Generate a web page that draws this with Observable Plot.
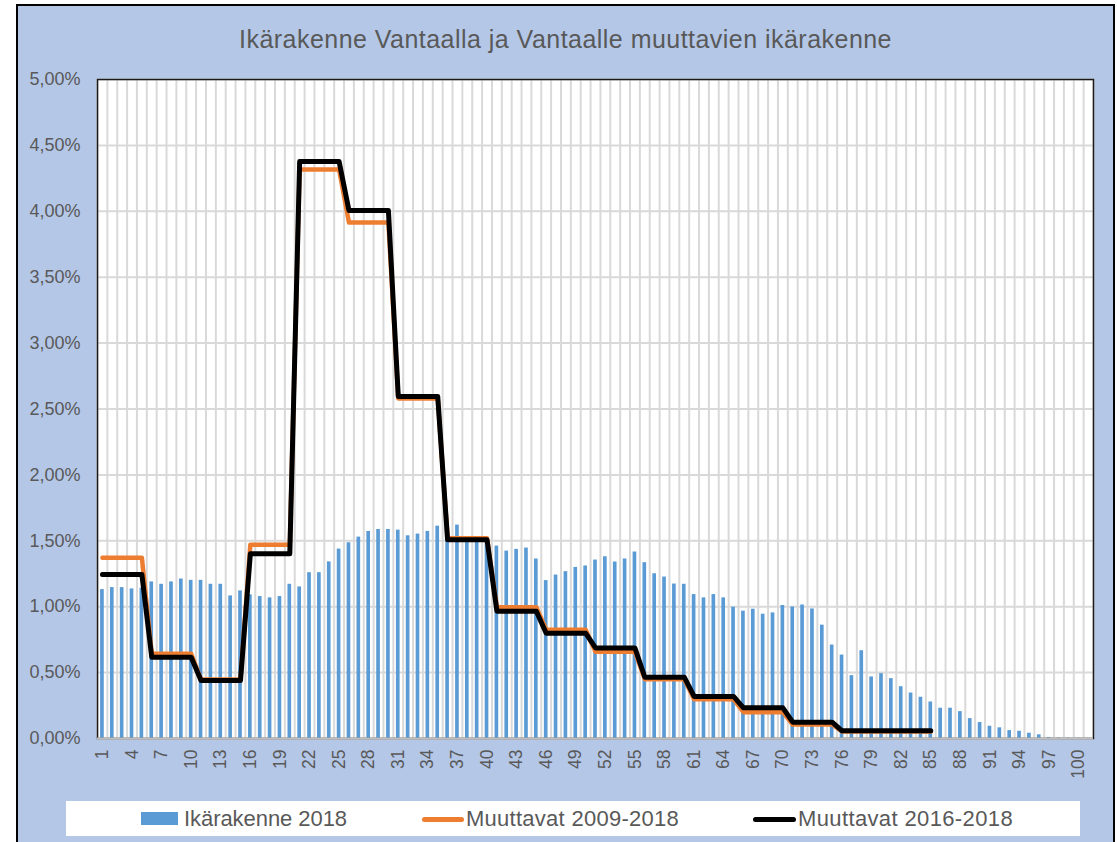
<!DOCTYPE html>
<html>
<head>
<meta charset="utf-8">
<script src="https://cdn.jsdelivr.net/npm/d3@7"></script>
<script src="https://cdn.jsdelivr.net/npm/@observablehq/plot@0.6"></script>
<style>
  html, body { margin: 0; padding: 0; background: #ffffff; width: 1117px; height: 842px; overflow: hidden; position: relative; }
  #frame { position: absolute; left: 16px; top: 4px; width: 1099px; height: 900px; background: #b4c7e7; border: 2px solid #000; box-sizing: border-box; }
  #title { position: absolute; left: 16px; top: 25px; width: 1099px; text-align: center; font-family: "Liberation Sans Narrow", "Liberation Sans", Arial, sans-serif; font-size: 25px; color: #595959; white-space: nowrap; }
  #chart { position: absolute; left: 0; top: 0; }
  #legend { position: absolute; left: 66px; top: 801px; width: 1014px; height: 35px; background: #ffffff; }
  .lg-text { position: absolute; top: 6px; font-family: "Liberation Sans", Arial, sans-serif; font-size: 22px; color: #595959; white-space: nowrap; line-height: 24px; }
  .lg-key { position: absolute; }
  g[aria-label^="x-axis"] text { font-size: 17.5px; }
  g[aria-label^="y-axis"] text { font-size: 18px; }
</style>
</head>
<body>
<div id="frame"></div>
<div id="title">Ikärakenne Vantaalla ja Vantaalle muuttavien ikärakenne</div>
<div id="chart"></div>
<div id="legend"></div>
<script>
// ---- Data ----
const ages = d3.range(1, 102); // age categories 1..101
const ikarakenne2018 = [
  1.13, 1.145, 1.145, 1.135, 1.14, 1.188, 1.17, 1.188, 1.21, 1.20,
  1.20, 1.17, 1.17, 1.082, 1.12, 1.09, 1.077, 1.067, 1.077, 1.17,
  1.15, 1.258, 1.258, 1.34, 1.437, 1.485, 1.528, 1.571, 1.586, 1.586,
  1.581, 1.538, 1.551, 1.571, 1.611, 1.58, 1.619, 1.51, 1.50, 1.49,
  1.46, 1.422, 1.435, 1.445, 1.362, 1.198, 1.24, 1.266, 1.298, 1.309,
  1.354, 1.379, 1.339, 1.362, 1.415, 1.334, 1.25, 1.225, 1.172, 1.17,
  1.092, 1.067, 1.092, 1.067, 0.996, 0.966, 0.981, 0.943, 0.953, 1.009,
  0.998, 1.013, 0.983, 0.86, 0.709, 0.633, 0.477, 0.666, 0.467, 0.492,
  0.454, 0.393, 0.345, 0.313, 0.277, 0.23, 0.23, 0.204, 0.151, 0.121,
  0.093, 0.081, 0.06, 0.055, 0.04, 0.028, 0.008, 0.004, 0.003, 0.002,
  0.001
];
// age groups of the movers' series
const groupStart = [1, 6, 11, 16, 21, 26, 31, 36, 41, 46, 51, 56, 61, 66, 71, 76];
const groupEnd   = [5, 10, 15, 20, 25, 30, 35, 40, 45, 50, 55, 60, 65, 70, 75, 85];
const muuttavat2009_2018 = [1.371, 0.643, 0.448, 1.47, 4.317, 3.915, 2.58, 1.52, 0.996, 0.825, 0.658, 0.45, 0.298, 0.20, 0.106, 0.053];
const muuttavat2016_2018 = [1.244, 0.617, 0.44, 1.401, 4.378, 4.006, 2.595, 1.508, 0.966, 0.799, 0.687, 0.465, 0.319, 0.233, 0.124, 0.058];
const xTickLabels = [1, 4, 7, 10, 13, 16, 19, 22, 25, 28, 31, 34, 37, 40, 43, 46, 49, 52, 55, 58, 61, 64, 67, 70, 73, 76, 79, 82, 85, 88, 91, 94, 97, 100];
const yTicks = [0, 0.5, 1, 1.5, 2, 2.5, 3, 3.5, 4, 4.5, 5];
const seriesNames = ["Ikärakenne 2018", "Muuttavat 2009-2018", "Muuttavat 2016-2018"];
const colors = ["#5b9bd5", "#ed7d31", "#000000"];

// ---- Build tables ----
const bars = ages.map((age, i) => ({age, v: ikarakenne2018[i]}));
const stepPoints = vals => groupStart.flatMap((s, i) => d3.range(s, groupEnd[i] + 1).map(age => ({age, v: vals[i]})));
const orange = stepPoints(muuttavat2009_2018);
const black = stepPoints(muuttavat2016_2018);
const boundaries = ages.map(a => a - 0.5).concat([ages[ages.length - 1] + 0.5]);

const chart = Plot.plot({
  width: 1117,
  height: 800,
  marginLeft: 97,
  marginRight: 24,
  marginTop: 79,
  marginBottom: 62,
  style: {background: "transparent", color: "#595959", fontFamily: "'Liberation Sans', Arial, sans-serif", fontSize: "18px", overflow: "visible"},
  x: {type: "linear", domain: [0.5, 101.5], ticks: xTickLabels, tickFormat: d => String(d), tickRotate: -90, tickSize: 0, tickPadding: 11, label: null},
  y: {domain: [0, 5], ticks: yTicks, tickFormat: v => v.toFixed(2).replace(".", ",") + "%", tickSize: 0, tickPadding: 17, label: null},
  marks: [
    Plot.frame({fill: "#ffffff", stroke: "none"}),
    Plot.ruleX(boundaries, {stroke: "#d9d9d9", strokeWidth: 2}),
    Plot.ruleY(yTicks, {stroke: "#d9d9d9", strokeWidth: 2}),
    Plot.rectY(bars, {x1: d => d.age - 0.5, x2: d => d.age + 0.5, y: "v", fill: colors[0], insetLeft: 3.1, insetRight: 3.1}),
    Plot.frame({stroke: "#1a1a1a", strokeWidth: 1.5}),
    Plot.ruleY([0], {stroke: "#bfbfbf", strokeWidth: 2}),
    Plot.line(orange, {x: "age", y: "v", stroke: colors[1], strokeWidth: 4.5, strokeLinejoin: "round", strokeLinecap: "round"}),
    Plot.line(black, {x: "age", y: "v", stroke: colors[2], strokeWidth: 5, strokeLinejoin: "round", strokeLinecap: "round"})
  ]
});
document.getElementById("chart").appendChild(chart);

// ---- Legend ----
const legend = document.getElementById("legend");
const keyDefs = [
  {left: 141 - 66, width: 37, top: 11, height: 13, radius: 0},
  {left: 422 - 66, width: 42, top: 16, height: 5, radius: 3},
  {left: 753 - 66, width: 43, top: 16, height: 5, radius: 3}
];
const textLeft = [184 - 66, 466 - 66, 798 - 66];
const textWidth = [163, 213, 215];
seriesNames.forEach((name, i) => {
  const k = document.createElement("div");
  k.className = "lg-key";
  const d = keyDefs[i];
  Object.assign(k.style, {left: d.left + "px", top: d.top + "px", width: d.width + "px", height: d.height + "px", background: colors[i], borderRadius: d.radius + "px"});
  legend.appendChild(k);
  const t = document.createElement("div");
  t.className = "lg-text";
  t.textContent = name;
  t.style.left = textLeft[i] + "px";
  legend.appendChild(t);
  const w = t.getBoundingClientRect().width;
  t.style.letterSpacing = ((textWidth[i] - w) / name.length) + "px";
});

// fit title width
const title = document.getElementById("title");
const span = document.createElement("span");
span.textContent = title.textContent;
title.textContent = "";
title.appendChild(span);
const tw = span.getBoundingClientRect().width;
span.style.letterSpacing = ((653 - tw) / span.textContent.length) + "px";
</script>
</body>
</html>
